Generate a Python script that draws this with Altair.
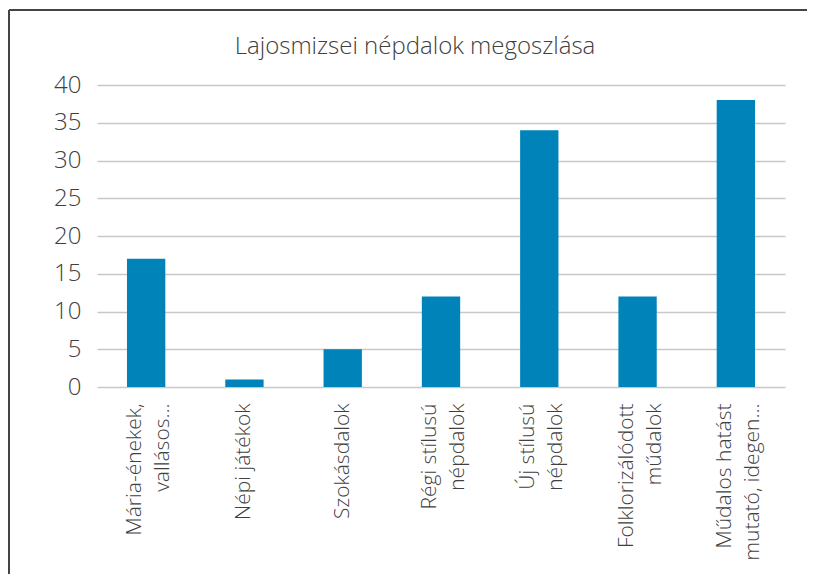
import altair as alt
import pandas as pd

categories = [
    "Mária-énekek,\nvallásos...",
    "Népi játékok",
    "Szokásdalok",
    "Régi stílusú\nnépdalok",
    "Új stílusú\nnépdalok",
    "Folklorizálódott\nműdalok",
    "Műdalos hatást\nmutató, idegen...",
]
values = [17, 1, 5, 12, 34, 12, 38]
y_ticks = [0, 5, 10, 15, 20, 25, 30, 35, 40]
title_text = "Lajosmizsei népdalok megoszlása"

df = pd.DataFrame({"cat": categories, "val": values})

FONT = "Open Sans"
TXT = "#404040"

bars = alt.Chart(df).mark_bar(color="#0083B9").encode(
    x=alt.X(
        "cat:N",
        sort=categories,
        title=None,
        scale=alt.Scale(paddingInner=0.61, paddingOuter=0.305),
        axis=alt.Axis(
            labelAngle=-90,
            labelExpr="split(datum.label, '\\n')",
            labelFontSize=21,
            labelFont=FONT,
            labelFontWeight=300,
            labelColor=TXT,
            labelLineHeight=28,
            labelPadding=16,
            labelOffset={
                "condition": {"test": "indexof(datum.value, '\\n') >= 0", "value": -11},
                "value": 0,
            },
            ticks=False,
            domain=False,
            grid=False,
            labelLimit=300,
        ),
    ),
    y=alt.Y(
        "val:Q",
        title=None,
        scale=alt.Scale(domain=[0, 40], nice=False),
        axis=alt.Axis(
            values=y_ticks,
            labelFontSize=24,
            labelFont=FONT,
            labelFontWeight=300,
            labelColor=TXT,
            labelPadding=16,
            ticks=False,
            domain=False,
            grid=True,
            gridColor="#c8c8c8",
            gridWidth=1.5,
        ),
    ),
)

title = alt.Chart(pd.DataFrame({"t": [title_text]})).mark_text(
    font=FONT, fontSize=24, fontWeight=300, color=TXT,
    align="center", baseline="alphabetic",
).encode(text="t:N", x=alt.value(318), y=alt.value(-31))

frame_left = alt.Chart(df).mark_rule(color="#444444", strokeWidth=2).encode(
    x=alt.value(-88), y=alt.value(-75), y2=alt.value(520)
)
frame_top = alt.Chart(df).mark_rule(color="#444444", strokeWidth=2).encode(
    x=alt.value(-88), x2=alt.value(760), y=alt.value(-75)
)

chart = (
    alt.layer(bars, title, frame_left, frame_top)
    .properties(
        width=688,
        height=302,
        padding={"left": 89, "top": 77, "right": 22, "bottom": 187},
        autosize=alt.AutoSizeParams(type="none"),
        background="white",
    )
    .configure_view(strokeWidth=0, stroke=None)
)

chart.save("out.html", embed_options={"renderer": "svg", "actions": False})
